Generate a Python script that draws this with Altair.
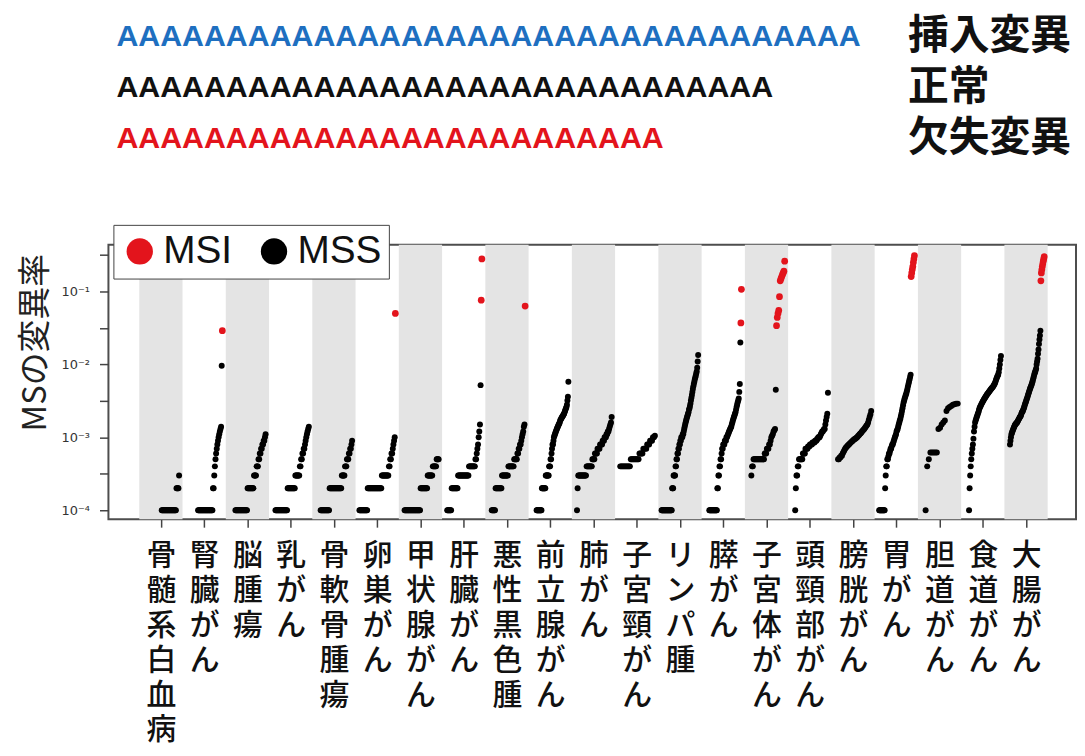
import altair as alt
import pandas as pd

# ---------------- data ----------------
categories = ["骨髄系白血病", "腎臓がん", "脳腫瘍", "乳がん", "骨軟骨腫瘍", "卵巣がん",
              "甲状腺がん", "肝臓がん", "悪性黒色腫", "前立腺がん", "肺がん", "子宮頸がん",
              "リンパ腫", "膵がん", "子宮体がん", "頭頸部がん", "膀胱がん", "胃がん",
              "胆道がん", "食道がん", "大腸がん"]

# MSS samples per cancer type (0 = no MS mutation, not drawn on the log axis but ranked)
leukemia = [0]*32 + [1e-4]*23 + [2e-4]*4 + [3e-4]
kidney = [0]*22 + [1e-4]*24 + [2e-4]*2 + [3e-4] + [4e-4, 5e-4, 6e-4, 7e-4, 8e-4, 9e-4, 1.0e-3, 1.1e-3, 1.2e-3, 1.3e-3, 1.4e-3] + [9.6e-3]
brain = [0]*12 + [1e-4]*19 + [2e-4]*10 + [3e-4]*4 + [4e-4]*3 + [5e-4]*2 + [6e-4]*2 + [7e-4]*2 + [8e-4]*2 + [9e-4]*2 + [1.0e-3, 1.1e-3]
breast = [0]*7 + [1e-4]*19 + [2e-4]*12 + [3e-4]*7 + [4e-4]*2 + [5e-4]*2 + [6e-4]*2 + [7e-4]*2 + [8e-4, 9e-4, 1.0e-3, 1.1e-3, 1.2e-3, 1.3e-3, 1.4e-3]
bone = [0]*10 + [1e-4]*14 + [2e-4]*19 + [3e-4]*5 + [4e-4]*3 + [5e-4]*3 + [6e-4]*2 + [7e-4]*2 + [8e-4, 9e-4]
ovary = [0]*3 + [1e-4]*13 + [2e-4]*22 + [3e-4]*11 + [4e-4]*2 + [5e-4]*2 + [6e-4]*2 + [7e-4, 8e-4, 9e-4, 1.0e-3]
thyroid = [0]*6 + [1e-4]*25 + [2e-4]*11 + [3e-4]*8 + [4e-4]*6 + [5e-4]*4
liver = [0]*5 + [1e-4]*7 + [2e-4]*10 + [3e-4]*17 + [4e-4]*10 + [5e-4]*2 + [6e-4, 7e-4, 8e-4, 1.0e-3, 1.2e-3, 1.5e-3, 5.2e-3]
melanoma = [0]*7 + [1e-4]*6 + [2e-4]*10 + [3e-4]*10 + [4e-4]*9 + [5e-4]*5 + [6e-4]*2 + [7e-4]*2 + [8e-4]*2 + [9e-4, 1.0e-3, 1.1e-3, 1.2e-3, 1.4e-3, 1.5e-3]
prostate = ([0]*13 + [1e-4]*11 + [2e-4]*8 + [3e-4]*7 + [4e-4]*3
            + [5e-4, 5e-4, 6e-4, 7e-4, 8e-4, 8e-4, 9e-4, 1.0e-3]
            + [1.05e-3, 1.1e-3, 1.15e-3, 1.2e-3, 1.25e-3, 1.3e-3, 1.35e-3, 1.4e-3, 1.45e-3, 1.5e-3, 1.55e-3, 1.6e-3, 1.7e-3]
            + [1.75e-3, 1.8e-3, 1.85e-3, 1.9e-3, 1.95e-3, 2.0e-3, 2.05e-3, 2.1e-3, 2.2e-3, 2.3e-3, 2.4e-3, 2.5e-3, 2.6e-3]
            + [2.8e-3, 3.2e-3, 3.6e-3, 5.8e-3])
lung = ([0]*5 + [1e-4] + [2e-4] + [3e-4]*13 + [4e-4]*9 + [5e-4]*4 + [6e-4]*4 + [7e-4]*4 + [8e-4]*4
        + [9e-4]*3 + [1.0e-3]*3 + [1.1e-3]*2 + [1.2e-3]*2 + [1.3e-3, 1.4e-3, 1.5e-3, 1.6e-3, 1.9e-3])
cervix = [0]*3 + [4e-4]*11 + [5e-4]*9 + [6e-4]*4 + [7e-4]*4 + [8e-4]*3 + [9e-4]*3 + [1.0e-3]*2 + [1.05e-3]
lymphoma = ([0]*3 + [1e-4]*22 + [2e-4]*3 + [3e-4]*4 + [4e-4]*2 + [5e-4]*2 + [6e-4]*2 + [7e-4]*2 + [8e-4]*2
            + [9e-4]*2 + [1.0e-3]*3 + [1.1e-3]*2 + [1.2e-3, 1.3e-3, 1.4e-3, 1.5e-3, 1.6e-3, 1.7e-3]
            + [1.8e-3, 1.9e-3, 2.0e-3, 2.1e-3, 2.2e-3, 2.4e-3, 2.5e-3, 2.7e-3, 2.9e-3]
            + [3.2e-3, 3.5e-3, 3.8e-3, 4.2e-3, 4.6e-3] + [5.0e-3, 5.4e-3, 5.8e-3, 6.2e-3, 6.6e-3, 7.0e-3]
            + [7.5e-3, 8.0e-3, 9.0e-3, 1.1e-2, 1.35e-2])
pancreas = ([0]*11 + [1e-4]*15 + [2e-4]*2 + [3e-4]*2 + [4e-4]*2 + [5e-4]*2 + [6e-4, 7e-4, 7e-4] + [8e-4]*3
            + [9e-4]*3 + [1.0e-3]*2 + [1.05e-3, 1.1e-3, 1.15e-3, 1.2e-3, 1.25e-3, 1.3e-3, 1.35e-3, 1.4e-3, 1.5e-3]
            + [1.6e-3, 1.7e-3, 1.8e-3, 1.9e-3, 2.0e-3, 2.1e-3, 2.2e-3]
            + [2.4e-3, 2.6e-3, 2.8e-3, 3.0e-3, 3.2e-3, 3.4e-3] + [4.2e-3, 5.4e-3, 2.0e-2])
uterus = ([0]*6 + [3e-4] + [4e-4]*2 + [5e-4]*15 + [6e-4]*3 + [7e-4]*3 + [8e-4]*2
          + [9e-4, 1.0e-3, 1.05e-3, 1.1e-3, 1.2e-3, 1.25e-3, 1.3e-3] + [4.5e-3])
headneck = ([0]*8 + [1e-4, 2e-4] + [3e-4]*2 + [4e-4]*2 + [5e-4]*6 + [6e-4]*4 + [7e-4]*4 + [7.5e-4]*3
            + [8e-4]*4 + [8.5e-4]*4 + [9e-4]*3 + [9.5e-4]*2 + [1.0e-3]*3 + [1.05e-3, 1.1e-3]
            + [1.15e-3, 1.2e-3, 1.2e-3, 1.25e-3, 1.3e-3, 1.3e-3] + [1.5e-3, 1.7e-3, 1.9e-3, 2.1e-3, 4.1e-3])
bladder = ([0]*6 + [5e-4]*2 + [5.3e-4]*2 + [5.6e-4]*2 + [6e-4]
           + [6.3e-4, 6.6e-4, 6.9e-4, 7.2e-4, 7.4e-4, 7.6e-4, 7.8e-4, 8.0e-4]
           + [8.2e-4, 8.4e-4, 8.6e-4, 8.8e-4, 9.0e-4, 9.2e-4, 9.4e-4, 9.5e-4]
           + [9.7e-4, 9.9e-4, 1.01e-3, 1.04e-3, 1.07e-3, 1.1e-3]
           + [1.13e-3, 1.16e-3, 1.2e-3, 1.23e-3, 1.27e-3, 1.3e-3]
           + [1.35e-3, 1.4e-3, 1.45e-3, 1.5e-3] + [1.6e-3, 1.75e-3, 1.9e-3, 2.05e-3, 2.3e-3])
stomach = ([0]*5 + [1e-4]*11 + [2e-4, 3e-4] + [4e-4]*2 + [5e-4]*2 + [5.5e-4] + [6e-4]*2 + [6.5e-4]
           + [7e-4]*2 + [7.5e-4] + [8e-4]*2 + [8.5e-4, 9e-4]
           + [9.5e-4, 1.0e-3, 1.05e-3, 1.1e-3, 1.2e-3, 1.25e-3, 1.3e-3, 1.4e-3, 1.5e-3]
           + [1.6e-3, 1.7e-3, 1.8e-3, 1.95e-3, 2.1e-3, 2.3e-3, 2.5e-3, 2.75e-3, 3.0e-3]
           + [3.2e-3, 3.4e-3, 3.6e-3, 3.8e-3, 4.0e-3, 4.3e-3, 4.6e-3, 5.0e-3, 5.4e-3]
           + [5.8e-3, 6.2e-3, 6.7e-3, 7.2e-3])
biliary = ([0]*3 + [1e-4, 4e-4, 5e-4] + [6.2e-4]*5
           + [1.3e-3, 1.35e-3, 1.5e-3, 1.6e-3, 1.7e-3, 2.3e-3, 2.5e-3, 2.6e-3, 2.7e-3, 2.8e-3, 2.85e-3, 2.9e-3, 2.9e-3])
esophagus = ([0]*11 + [1e-4, 2e-4, 3e-4, 4e-4, 5e-4, 6e-4, 7e-4, 8e-4, 9.6e-4, 1.2e-3, 1.4e-3, 1.6e-3]
             + [1.7e-3, 1.8e-3, 1.9e-3, 2.0e-3, 2.1e-3, 2.2e-3, 2.35e-3, 2.5e-3]
             + [2.6e-3, 2.7e-3, 2.8e-3, 2.9e-3, 3.0e-3, 3.1e-3, 3.2e-3, 3.3e-3, 3.4e-3, 3.5e-3, 3.6e-3, 3.7e-3, 3.8e-3]
             + [3.9e-3, 4.0e-3, 4.1e-3, 4.2e-3, 4.3e-3, 4.4e-3, 4.5e-3, 4.6e-3, 4.7e-3, 4.8e-3, 4.9e-3, 5.0e-3, 5.2e-3, 5.35e-3, 5.5e-3]
             + [5.8e-3, 6.1e-3, 6.4e-3, 6.7e-3, 7.0e-3, 7.2e-3] + [7.8e-3, 8.8e-3, 1.0e-2, 1.15e-2, 1.3e-2])
colorectal = ([0]*8 + [8e-4, 9e-4, 1.0e-3, 1.1e-3]
              + [1.15e-3, 1.2e-3, 1.25e-3, 1.3e-3, 1.35e-3, 1.4e-3, 1.45e-3, 1.5e-3, 1.52e-3, 1.55e-3, 1.58e-3, 1.6e-3]
              + [1.65e-3, 1.7e-3, 1.75e-3, 1.8e-3, 1.85e-3, 1.9e-3, 1.95e-3, 2.0e-3, 2.1e-3, 2.2e-3, 2.25e-3, 2.3e-3, 2.4e-3, 2.5e-3]
              + [2.6e-3, 2.75e-3, 2.9e-3, 3.0e-3, 3.15e-3, 3.3e-3, 3.45e-3, 3.6e-3, 3.8e-3]
              + [4.0e-3, 4.2e-3, 4.4e-3, 4.6e-3, 4.8e-3, 5.0e-3, 5.2e-3, 5.45e-3, 5.7e-3]
              + [6.0e-3, 6.4e-3, 6.8e-3, 7.2e-3, 7.6e-3, 7.9e-3, 8.3e-3, 8.8e-3]
              + [1.0e-2, 1.1e-2, 1.2e-2, 1.4e-2, 1.6e-2, 1.9e-2, 2.2e-2, 2.5e-2, 2.9e-2])

# MSI samples per cancer type
kidney_msi = [2.9e-2]
ovary_msi = [5.0e-2]
liver_msi = [7.6e-2, 2.8e-1]
melanoma_msi = [6.3e-2]
pancreas_msi = [3.7e-2, 1.07e-1]
uterus_msi = [3.4e-2, 4.4e-2, 5.0e-2, 5.5e-2, 8.5e-2, 1.4e-1, 1.5e-1, 1.6e-1, 1.7e-1, 1.8e-1, 1.9e-1, 2.6e-1]
stomach_msi = [1.6e-1, 1.8e-1, 2.0e-1, 2.2e-1, 2.5e-1, 2.8e-1, 3.1e-1]
colorectal_msi = [1.4e-1, 1.8e-1, 2.0e-1, 2.2e-1, 2.4e-1, 2.6e-1, 2.8e-1, 3.0e-1]

mss_series = [leukemia, kidney, brain, breast, bone, ovary, thyroid, liver, melanoma, prostate,
              lung, cervix, lymphoma, pancreas, uterus, headneck, bladder, stomach, biliary,
              esophagus, colorectal]
msi_series = [[], kidney_msi, [], [], [], ovary_msi, [], liver_msi, melanoma_msi, [],
              [], [], [], pancreas_msi, uterus_msi, [], [], stomach_msi, [], [], colorectal_msi]

status_names = ["MSI", "MSS"]
y_tick_values = [1e-4, 3.1623e-4, 1e-3, 3.1623e-3, 1e-2, 3.1623e-2, 1e-1, 3.1623e-1]
y_tick_labels = ["10⁻⁴", "10⁻³", "10⁻²", "10⁻¹"]

seq_texts = ["A" * 34, "A" * 30, "A" * 25]
seq_colors = ["#1e6fc0", "#111111", "#e3141c"]
seq_labels = ["挿入変異", "正常", "欠失変異"]

# ---------------- tables ----------------
rows = []
for gi, (mss, msi) in enumerate(zip(mss_series, msi_series)):
    for v in mss:
        rows.append({"gi": gi, "v": v, "status": "MSS"})
    for v in msi:
        rows.append({"gi": gi, "v": v, "status": "MSI"})
df = pd.DataFrame(rows)

bands = pd.DataFrame({"gi": [i for i in range(len(categories)) if i % 2 == 0]})
seq_df = pd.DataFrame({"row": list(range(3)), "seq": seq_texts, "lab": seq_labels})

RED = "#e3141c"
W, H = 973, 276
TOP_H = 212
ROW0, ROW_STEP = 26.5, 51.0

x_scale = alt.Scale(domain=[-0.713, 21.655], nice=False, zero=False)
names_js = "[" + ",".join("'" + c + "'" for c in categories) + "]"
x_axis = alt.Axis(values=[i + 0.5 for i in range(len(categories))],
                  labelExpr=f"split({names_js}[round(datum.value - 0.5)], '')",
                  title=None, grid=False, domain=False, tickSize=8, tickColor="#444", tickWidth=1.5,
                  labelFont="Noto Sans CJK JP", labelFontSize=30, labelFontWeight=500,
                  labelLineHeight=35, labelColor="#111", labelPadding=14, labelAngle=0,
                  labelBaseline="top", labelFlush=False, labelOverlap=False)

lab_js = "[" + ",".join("'" + t + "'" for t in y_tick_labels) + "]"
y_axis = alt.Axis(values=y_tick_values,
                  labelExpr=("abs(log(datum.value)/LN10 - round(log(datum.value)/LN10)) > 0.1 ? '' : "
                             f"{lab_js}[round(log(datum.value)/LN10) + 4]"),
                  title="MSの変異率", titleFont="Noto Sans CJK JP", titleFontSize=33,
                  titleFontWeight="normal", titleColor="#222", titlePadding=9, titleY=98,
                  grid=False, domain=False, tickSize=9, tickColor="#444", tickWidth=1.5,
                  labelFont="DejaVu Sans", labelFontSize=13, labelColor="#333", labelPadding=10)

band_layer = alt.Chart(bands).transform_calculate(b1="datum.gi + 1").mark_rect(
    color="#e4e4e4").encode(
    x=alt.X("gi:Q", scale=x_scale, axis=x_axis),
    x2="b1:Q")

point_layer = alt.Chart(df).transform_window(
    rank="row_number()", groupby=["gi"], sort=[alt.SortField("v", order="ascending")]
).transform_joinaggregate(
    n="count()", groupby=["gi"]
).transform_calculate(
    xpos="datum.gi + 0.03 + 0.89 * datum.rank / datum.n"
).transform_filter("datum.v > 0").mark_circle(opacity=1).encode(
    x=alt.X("xpos:Q", scale=x_scale, axis=x_axis),
    y=alt.Y("v:Q", scale=alt.Scale(type="log", domain=[7.54e-5, 0.4375], nice=False), axis=y_axis),
    color=alt.Color("status:N", scale=alt.Scale(domain=status_names, range=[RED, "#000000"]),
                    legend=alt.Legend(title=None, orient="none", legendX=5, legendY=-20,
                                      direction="horizontal", symbolSize=700, symbolType="circle",
                                      symbolStrokeWidth=0, symbolOpacity=1,
                                      labelFontSize=39, labelFont="Liberation Sans",
                                      labelColor="#111", fillColor="white", strokeColor="#444",
                                      padding=7, columnPadding=22, labelOffset=4)),
    size=alt.condition("datum.status == 'MSI'", alt.value(46), alt.value(36)),
)

main = alt.layer(band_layer, point_layer).properties(width=W, height=H)

# ---------------- top illustration ----------------
top_y = alt.Y("row:Q", scale=alt.Scale(domain=[-ROW0 / ROW_STEP, (TOP_H - ROW0) / ROW_STEP], reverse=True),
              axis=None)
seq_layers = [
    alt.Chart(seq_df).transform_filter(f"datum.row == {i}").mark_text(
        align="left", baseline="middle", font="Liberation Sans", fontSize=30.5, fontWeight="bold",
        color=seq_colors[i]
    ).encode(x=alt.value(8), y=top_y, text="seq:N")
    for i in range(len(seq_texts))
]
lab_layer = alt.Chart(seq_df).mark_text(align="left", baseline="middle", font="Noto Sans CJK JP",
                                        fontSize=41, fontWeight="bold", color="#111").encode(
    x=alt.value(804), y=top_y, text="lab:N")
top = alt.layer(*seq_layers, lab_layer).properties(width=W, height=TOP_H,
                                                    view=alt.ViewBackground(stroke="transparent"))

chart = alt.vconcat(top, main, spacing=0).resolve_legend(color="independent").properties(
    padding={"left": 10, "top": 0, "right": 0, "bottom": 0}
).configure_view(stroke="#4d4d4d", strokeWidth=2)

chart.save("out.html", embed_options={"renderer": "svg", "actions": False})
